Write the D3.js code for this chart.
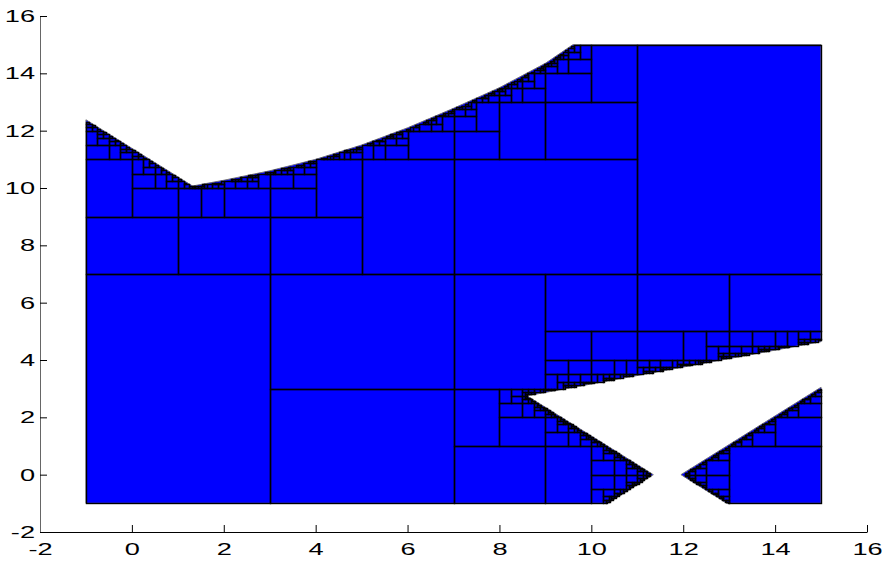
<!DOCTYPE html>
<html><head><meta charset="utf-8">
<script src="https://cdn.jsdelivr.net/npm/d3@7"></script>
<style>body{margin:0;background:#fff}svg{display:block}</style>
</head><body><svg id="c" width="888" height="563"></svg>
<script>
// ---- data ----
const xTicks = [-2, 0, 2, 4, 6, 8, 10, 12, 14, 16];
const yTicks = [-2, 0, 2, 4, 6, 8, 10, 12, 14, 16];
// upper boundary of the domain, from the V bottom up to the top edge
const topCurve = [[1.32,10.07],[2,10.27],[3,10.6],[4,11.0],[5,11.5],[6,12.1],[7,12.78],[8,13.5],[9,14.35],[9.6,15]];
const mainPolygon = [[-1,-1],[-1,12.38]].concat(topCurve, [[15,15],[15,4.64],[8.6,2.75],[11.35,0],[10.35,-1]]);
const rightTriangle = [[11.95,0],[15,3.05],[15,-1],[12.95,-1]];
const polygons = [mainPolygon, rightTriangle];
const rootCell = [-1, 15, -1, 15];   // x0, x1, y0, y1 of the tree root
const maxDepth = 17;                 // binary splits (x, y alternating)

// ---- layout ----
const svg = d3.select("#c");
const x = d3.scaleLinear().domain([-2, 16]).range([40, 867]);
const y = d3.scaleLinear().domain([-2, 16]).range([532, 16]);

// edges that refine the tree: all polygon edges not lying on the root box
const onBox = (a, b) =>
  (a[0] === b[0] && (a[0] === rootCell[0] || a[0] === rootCell[1])) ||
  (a[1] === b[1] && (a[1] === rootCell[2] || a[1] === rootCell[3]));
const segs = [];
polygons.forEach(p => p.forEach((a, i) => {
  const b = p[(i + 1) % p.length];
  if (!onBox(a, b)) segs.push([a, b]);
}));
function segDist(px, py, a, b) {
  const dx = b[0]-a[0], dy = b[1]-a[1];
  let t = ((px-a[0])*dx + (py-a[1])*dy) / (dx*dx + dy*dy);
  t = Math.max(0, Math.min(1, t));
  return Math.hypot(px - (a[0]+t*dx), py - (a[1]+t*dy));
}
const minDist = (px, py) => d3.min(segs, s => segDist(px, py, s[0], s[1]));
const inside = (px, py) => polygons.some(p => d3.polygonContains(p, [px, py]));

const leaves = [];
(function build(x0, x1, y0, y1, d) {
  const cx = (x0+x1)/2, cy = (y0+y1)/2, r = Math.hypot(x1-x0, y1-y0)/2;
  if (minDist(cx, cy) >= r) { if (inside(cx, cy)) leaves.push([x0, x1, y0, y1]); return; }
  if (d >= maxDepth) {
    if (inside(x0,y0) && inside(x1,y0) && inside(x0,y1) && inside(x1,y1)) leaves.push([x0, x1, y0, y1]);
    return;
  }
  if (d % 2 === 0) { const m = (x0+x1)/2; build(x0, m, y0, y1, d+1); build(m, x1, y0, y1, d+1); }
  else { const m = (y0+y1)/2; build(x0, x1, y0, m, d+1); build(x0, x1, m, y1, d+1); }
})(rootCell[0], rootCell[1], rootCell[2], rootCell[3], 0);

// ---- draw domain ----
svg.append("g").selectAll("path").data(polygons).join("path")
  .attr("d", p => "M" + p.map(q => x(q[0]) + "," + y(q[1])).join("L") + "Z")
  .attr("fill", "#0000ff").attr("stroke", "#7a7a7a").attr("stroke-width", 1);

const px = v => Math.round(x(v)), py = v => Math.round(y(v));
svg.append("g")
  .selectAll("rect").data(leaves).join("rect")
  .attr("x", c => px(c[0]) + 0.5).attr("y", c => py(c[3]) + 0.5)
  .attr("width", c => px(c[1]) - px(c[0])).attr("height", c => py(c[2]) - py(c[3]))
  .attr("fill", "none").attr("stroke", "#000").attr("stroke-width", 1.4);

// ---- axes ----
const sx = 1.6;
const gx = svg.append("g").attr("transform", `translate(0,${y(-2)})`)
  .call(d3.axisBottom(x).tickValues(xTicks).tickSizeInner(-7).tickSizeOuter(0).tickPadding(11));
const gy = svg.append("g").attr("transform", `translate(${x(-2)},0)`)
  .call(d3.axisLeft(y).tickValues(yTicks).tickSizeInner(-7).tickSizeOuter(0));
[gx, gy].forEach(g => {
  g.select(".domain").attr("stroke", "#000");
  g.selectAll(".tick line").attr("stroke", "#000");
  g.selectAll("text").attr("font-family", "Liberation Sans, Arial, sans-serif")
    .attr("font-size", 17).attr("fill", "#000").text(d => String(d));
});
gy.select(".domain").attr("stroke", "#666");
gx.selectAll("text").attr("transform", `scale(${sx},1)`);
gy.selectAll("text").attr("x", -5 / sx).attr("transform", `scale(${sx},1)`);
</script></body></html>
